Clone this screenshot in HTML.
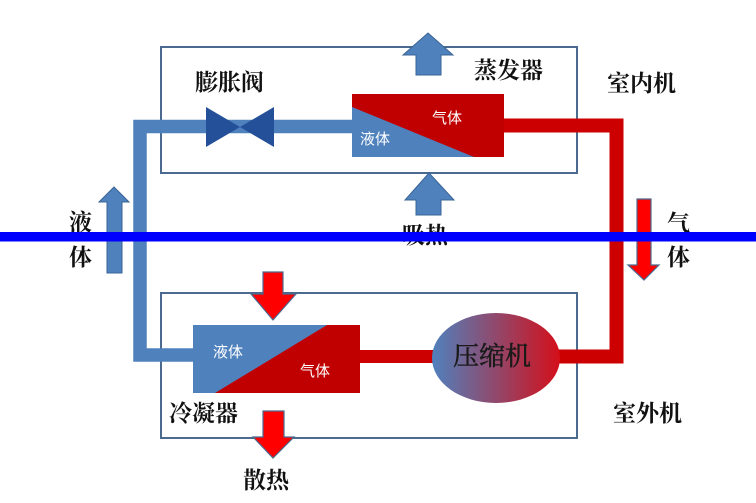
<!DOCTYPE html>
<html><head><meta charset="utf-8"><style>
html,body{margin:0;padding:0;background:#fff;}
svg{display:block;}
text{font-family:"Liberation Sans","Noto Sans CJK SC","WenQuanYi Zen Hei",sans-serif;}
.b{font-family:"Liberation Serif","Noto Serif CJK SC","Noto Sans CJK SC",serif;font-weight:bold;fill:#111;font-size:23px;}
.w{fill:#fff;font-size:15px;}
</style></head><body>
<svg width="756" height="503" viewBox="0 0 756 503" xmlns="http://www.w3.org/2000/svg">
<defs>
<linearGradient id="g" x1="0" x2="1" y1="0" y2="0">
<stop offset="0" stop-color="#4f81bd"/>
<stop offset="1" stop-color="#d40f1a"/>
</linearGradient>
</defs>
<rect width="756" height="503" fill="#fff"/>
<!-- boxes -->
<rect x="161" y="47" width="416" height="126" fill="none" stroke="#4a6a90" stroke-width="2"/>
<rect x="161" y="293" width="416" height="145" fill="none" stroke="#4a6a90" stroke-width="2"/>
<!-- blue pipe -->
<path d="M352 126.5 H140 V355 H195" fill="none" stroke="#4f81bd" stroke-width="13.5"/>
<!-- red pipes -->
<path d="M503 125.5 H616.5 V356.5 H558" fill="none" stroke="#cc0000" stroke-width="14"/>
<line x1="358" y1="356.5" x2="436" y2="356.5" stroke="#cc0000" stroke-width="13"/>
<!-- valve -->
<polygon points="206,107 240,127 206,147" fill="#24509a"/>
<polygon points="274,107 240,127 274,147" fill="#24509a"/>
<!-- evaporator -->
<rect x="352" y="94" width="152" height="63" fill="#c00000"/>
<polygon points="352,107 474,157 352,157" fill="#4f81bd"/>
<text class="w" x="360" y="144">液体</text>
<text class="w" x="432" y="123">气体</text>
<!-- condenser -->
<rect x="193" y="325" width="167" height="68" fill="#4f81bd"/>
<polygon points="327,325 360,325 360,393 215,393" fill="#c00000"/>
<text class="w" x="213" y="357">液体</text>
<text class="w" x="300" y="376">气体</text>
<!-- compressor -->
<ellipse cx="496" cy="358" rx="64" ry="45" fill="url(#g)"/>
<text x="453" y="365" style="font-family:'Liberation Serif','Noto Serif CJK SC',serif;font-size:26px;fill:#1a1a1a;stroke:#1a1a1a;stroke-width:0.5;">压缩机</text>
<!-- blue arrows -->
<polygon points="428,33 453,55 441,55 441,75 416,75 416,55 403,55" fill="#4f81bd" stroke="#3a6496" stroke-width="1"/>
<polygon points="429,173 454,200 441,200 441,215 416,215 416,200 405,200" fill="#4f81bd" stroke="#3a6496" stroke-width="1"/>
<polygon points="114,187 129,202 122,202 122,273 107,273 107,202 99,202" fill="#4f81bd" stroke="#3a6496" stroke-width="1"/>
<!-- red arrows -->
<polygon points="263,272 283,272 283,294 296,294 273,320 251,294 263,294" fill="#ff0000" stroke="#4a6a90" stroke-width="1.2"/>
<polygon points="263,411 284,411 284,437 294,437 273,458 253,437 263,437" fill="#ff0000" stroke="#4a6a90" stroke-width="1.2"/>
<polygon points="637,199 651,199 651,265 659,265 644,280 628,265 637,265" fill="#ff0000" stroke="#4a6a90" stroke-width="1.2"/>
<!-- labels -->
<text class="b" x="195" y="90">膨胀阀</text>
<text class="b" x="474" y="78">蒸发器</text>
<text class="b" x="607" y="91">室内机</text>
<text class="b" x="402" y="243">吸热</text>
<text class="b" x="69" y="230">液</text>
<text class="b" x="69" y="265">体</text>
<text class="b" x="667" y="231">气</text>
<text class="b" x="667" y="265">体</text>
<text class="b" x="169" y="421">冷凝器</text>
<text class="b" x="243" y="488">散热</text>
<text class="b" x="613" y="421">室外机</text>
<!-- overlay line -->
<rect x="0" y="232" width="756" height="9.5" fill="#0000ff"/>
</svg>
</body></html>
